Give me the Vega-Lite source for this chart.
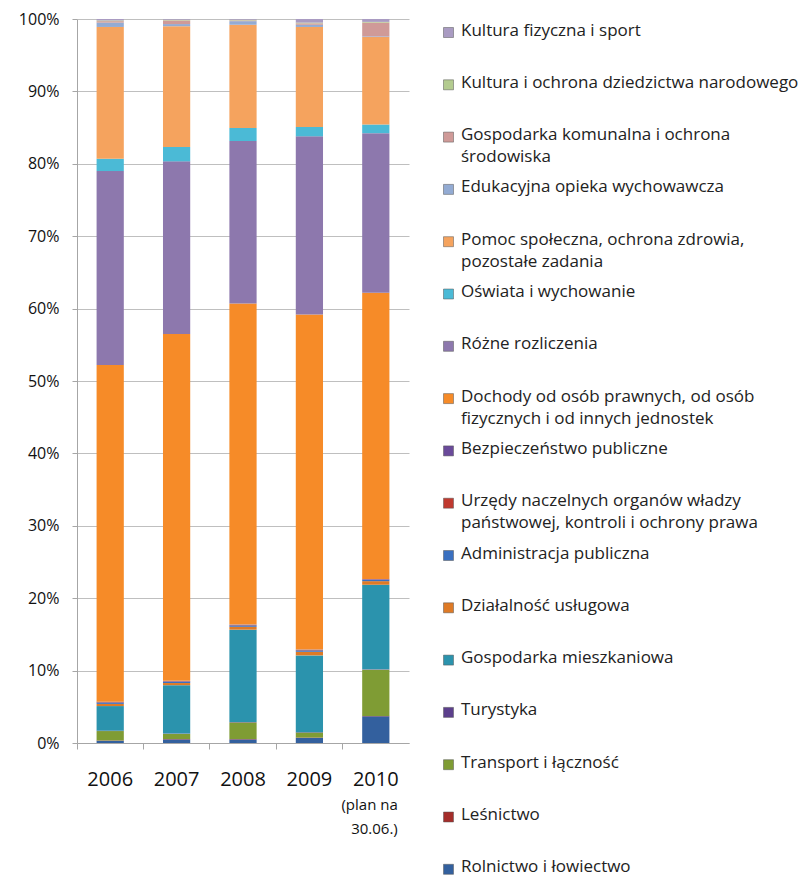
{
  "$schema": "https://vega.github.io/schema/vega-lite/v6.json",
  "width": 332,
  "height": 724,
  "padding": {"left": 18, "top": 11, "right": 0, "bottom": 0},
  "background": "white",
  "config": {
    "font": "Open Sans",
    "view": {"stroke": null}
  },
  "datasets": {
    "cats": [
      {"cat": "Rolnictwo i łowiectwo", "k": 1},
      {"cat": "Leśnictwo", "k": 2},
      {"cat": "Transport i łączność", "k": 3},
      {"cat": "Turystyka", "k": 4},
      {"cat": "Gospodarka mieszkaniowa", "k": 5},
      {"cat": "Działalność usługowa", "k": 6},
      {"cat": "Administracja publiczna", "k": 7},
      {"cat": "Urzędy naczelnych organów władzy państwowej, kontroli i ochrony prawa", "k": 8},
      {"cat": "Bezpieczeństwo publiczne", "k": 9},
      {"cat": "Dochody od osób prawnych, od osób fizycznych i od innych jednostek", "k": 10},
      {"cat": "Różne rozliczenia", "k": 11},
      {"cat": "Oświata i wychowanie", "k": 12},
      {"cat": "Pomoc społeczna, ochrona zdrowia, pozostałe zadania", "k": 13},
      {"cat": "Edukacyjna opieka wychowawcza", "k": 14},
      {"cat": "Gospodarka komunalna i ochrona środowiska", "k": 15},
      {"cat": "Kultura i ochrona dziedzictwa narodowego", "k": 16},
      {"cat": "Kultura fizyczna i sport", "k": 17}
    ],
    "bars": [
      {"year": "2006", "cat": "Rolnictwo i łowiectwo", "v": 0.3},
      {"year": "2006", "cat": "Leśnictwo", "v": 0.05},
      {"year": "2006", "cat": "Transport i łączność", "v": 1.3},
      {"year": "2006", "cat": "Turystyka", "v": 0.05},
      {"year": "2006", "cat": "Gospodarka mieszkaniowa", "v": 3.4},
      {"year": "2006", "cat": "Działalność usługowa", "v": 0.3},
      {"year": "2006", "cat": "Administracja publiczna", "v": 0.2},
      {"year": "2006", "cat": "Urzędy naczelnych organów władzy państwowej, kontroli i ochrony prawa", "v": 0.05},
      {"year": "2006", "cat": "Bezpieczeństwo publiczne", "v": 0.05},
      {"year": "2006", "cat": "Dochody od osób prawnych, od osób fizycznych i od innych jednostek", "v": 46.5},
      {"year": "2006", "cat": "Różne rozliczenia", "v": 26.8},
      {"year": "2006", "cat": "Oświata i wychowanie", "v": 1.7},
      {"year": "2006", "cat": "Pomoc społeczna, ochrona zdrowia, pozostałe zadania", "v": 18.2},
      {"year": "2006", "cat": "Edukacyjna opieka wychowawcza", "v": 0.6},
      {"year": "2006", "cat": "Gospodarka komunalna i ochrona środowiska", "v": 0.2},
      {"year": "2006", "cat": "Kultura i ochrona dziedzictwa narodowego", "v": 0.1},
      {"year": "2006", "cat": "Kultura fizyczna i sport", "v": 0.2},

      {"year": "2007", "cat": "Rolnictwo i łowiectwo", "v": 0.5},
      {"year": "2007", "cat": "Leśnictwo", "v": 0.05},
      {"year": "2007", "cat": "Transport i łączność", "v": 0.7},
      {"year": "2007", "cat": "Turystyka", "v": 0.05},
      {"year": "2007", "cat": "Gospodarka mieszkaniowa", "v": 6.7},
      {"year": "2007", "cat": "Działalność usługowa", "v": 0.3},
      {"year": "2007", "cat": "Administracja publiczna", "v": 0.2},
      {"year": "2007", "cat": "Urzędy naczelnych organów władzy państwowej, kontroli i ochrony prawa", "v": 0.05},
      {"year": "2007", "cat": "Bezpieczeństwo publiczne", "v": 0.05},
      {"year": "2007", "cat": "Dochody od osób prawnych, od osób fizycznych i od innych jednostek", "v": 48.0},
      {"year": "2007", "cat": "Różne rozliczenia", "v": 23.9},
      {"year": "2007", "cat": "Oświata i wychowanie", "v": 2.0},
      {"year": "2007", "cat": "Pomoc społeczna, ochrona zdrowia, pozostałe zadania", "v": 16.7},
      {"year": "2007", "cat": "Edukacyjna opieka wychowawcza", "v": 0.3},
      {"year": "2007", "cat": "Gospodarka komunalna i ochrona środowiska", "v": 0.5},
      {"year": "2007", "cat": "Kultura i ochrona dziedzictwa narodowego", "v": 0.1},
      {"year": "2007", "cat": "Kultura fizyczna i sport", "v": 0.1},

      {"year": "2008", "cat": "Rolnictwo i łowiectwo", "v": 0.5},
      {"year": "2008", "cat": "Leśnictwo", "v": 0.05},
      {"year": "2008", "cat": "Transport i łączność", "v": 2.3},
      {"year": "2008", "cat": "Turystyka", "v": 0.05},
      {"year": "2008", "cat": "Gospodarka mieszkaniowa", "v": 12.8},
      {"year": "2008", "cat": "Działalność usługowa", "v": 0.4},
      {"year": "2008", "cat": "Administracja publiczna", "v": 0.2},
      {"year": "2008", "cat": "Urzędy naczelnych organów władzy państwowej, kontroli i ochrony prawa", "v": 0.05},
      {"year": "2008", "cat": "Bezpieczeństwo publiczne", "v": 0.05},
      {"year": "2008", "cat": "Dochody od osób prawnych, od osób fizycznych i od innych jednostek", "v": 44.5},
      {"year": "2008", "cat": "Różne rozliczenia", "v": 22.5},
      {"year": "2008", "cat": "Oświata i wychowanie", "v": 1.8},
      {"year": "2008", "cat": "Pomoc społeczna, ochrona zdrowia, pozostałe zadania", "v": 14.3},
      {"year": "2008", "cat": "Edukacyjna opieka wychowawcza", "v": 0.5},
      {"year": "2008", "cat": "Gospodarka komunalna i ochrona środowiska", "v": 0.1},
      {"year": "2008", "cat": "Kultura i ochrona dziedzictwa narodowego", "v": 0.1},
      {"year": "2008", "cat": "Kultura fizyczna i sport", "v": 0.1},

      {"year": "2009", "cat": "Rolnictwo i łowiectwo", "v": 0.7},
      {"year": "2009", "cat": "Leśnictwo", "v": 0.05},
      {"year": "2009", "cat": "Transport i łączność", "v": 0.7},
      {"year": "2009", "cat": "Turystyka", "v": 0.05},
      {"year": "2009", "cat": "Gospodarka mieszkaniowa", "v": 10.6},
      {"year": "2009", "cat": "Działalność usługowa", "v": 0.5},
      {"year": "2009", "cat": "Administracja publiczna", "v": 0.2},
      {"year": "2009", "cat": "Urzędy naczelnych organów władzy państwowej, kontroli i ochrony prawa", "v": 0.05},
      {"year": "2009", "cat": "Bezpieczeństwo publiczne", "v": 0.05},
      {"year": "2009", "cat": "Dochody od osób prawnych, od osób fizycznych i od innych jednostek", "v": 46.3},
      {"year": "2009", "cat": "Różne rozliczenia", "v": 24.6},
      {"year": "2009", "cat": "Oświata i wychowanie", "v": 1.3},
      {"year": "2009", "cat": "Pomoc społeczna, ochrona zdrowia, pozostałe zadania", "v": 13.8},
      {"year": "2009", "cat": "Edukacyjna opieka wychowawcza", "v": 0.3},
      {"year": "2009", "cat": "Gospodarka komunalna i ochrona środowiska", "v": 0.2},
      {"year": "2009", "cat": "Kultura i ochrona dziedzictwa narodowego", "v": 0.1},
      {"year": "2009", "cat": "Kultura fizyczna i sport", "v": 0.5},

      {"year": "2010", "cat": "Rolnictwo i łowiectwo", "v": 3.7},
      {"year": "2010", "cat": "Leśnictwo", "v": 0.05},
      {"year": "2010", "cat": "Transport i łączność", "v": 6.4},
      {"year": "2010", "cat": "Turystyka", "v": 0.05},
      {"year": "2010", "cat": "Gospodarka mieszkaniowa", "v": 11.7},
      {"year": "2010", "cat": "Działalność usługowa", "v": 0.5},
      {"year": "2010", "cat": "Administracja publiczna", "v": 0.2},
      {"year": "2010", "cat": "Urzędy naczelnych organów władzy państwowej, kontroli i ochrony prawa", "v": 0.05},
      {"year": "2010", "cat": "Bezpieczeństwo publiczne", "v": 0.05},
      {"year": "2010", "cat": "Dochody od osób prawnych, od osób fizycznych i od innych jednostek", "v": 39.6},
      {"year": "2010", "cat": "Różne rozliczenia", "v": 22.1},
      {"year": "2010", "cat": "Oświata i wychowanie", "v": 1.2},
      {"year": "2010", "cat": "Pomoc społeczna, ochrona zdrowia, pozostałe zadania", "v": 12.1},
      {"year": "2010", "cat": "Edukacyjna opieka wychowawcza", "v": 0.1},
      {"year": "2010", "cat": "Gospodarka komunalna i ochrona środowiska", "v": 1.9},
      {"year": "2010", "cat": "Kultura i ochrona dziedzictwa narodowego", "v": 0.1},
      {"year": "2010", "cat": "Kultura fizyczna i sport", "v": 0.4}
    ],
    "notes": [
      {"year": "2010", "note": ["(plan na", "30.06.)"]}
    ]
  },
  "layer": [
    {
      "data": {"name": "bars"},
      "transform": [
        {"lookup": "cat", "from": {"data": {"name": "cats"}, "key": "cat", "fields": ["k"]}}
      ],
      "mark": {"type": "bar", "width": {"band": 0.41}},
      "encoding": {
        "x": {
          "field": "year",
          "type": "ordinal",
          "scale": {"paddingInner": 0, "paddingOuter": 0},
          "axis": {
            "title": null,
            "labelAngle": 0,
            "labelFontSize": 20,
            "labelColor": "#111111",
            "labelPadding": 20,
            "tickSize": 6,
            "bandPosition": 0,
            "tickColor": "#a6a6a6",
            "domainColor": "#a6a6a6",
            "grid": false
          }
        },
        "y": {
          "field": "v",
          "type": "quantitative",
          "stack": "normalize",
          "scale": {"domain": [0, 1]},
          "axis": {
            "title": null,
            "format": ".0%",
            "values": [0, 0.1, 0.2, 0.3, 0.4, 0.5, 0.6, 0.7, 0.8, 0.9, 1],
            "labelFontSize": 16,
            "labelColor": "#111111",
            "labelPadding": 13,
            "tickSize": 5,
            "tickColor": "#a6a6a6",
            "domainColor": "#a6a6a6",
            "gridColor": "#bfbfbf",
            "gridWidth": 1
          }
        },
        "order": {"field": "k", "type": "quantitative", "sort": "ascending"},
        "color": {
          "field": "cat",
          "type": "nominal",
          "sort": [
            "Kultura fizyczna i sport",
            "Kultura i ochrona dziedzictwa narodowego",
            "Gospodarka komunalna i ochrona środowiska",
            "Edukacyjna opieka wychowawcza",
            "Pomoc społeczna, ochrona zdrowia, pozostałe zadania",
            "Oświata i wychowanie",
            "Różne rozliczenia",
            "Dochody od osób prawnych, od osób fizycznych i od innych jednostek",
            "Bezpieczeństwo publiczne",
            "Urzędy naczelnych organów władzy państwowej, kontroli i ochrony prawa",
            "Administracja publiczna",
            "Działalność usługowa",
            "Gospodarka mieszkaniowa",
            "Turystyka",
            "Transport i łączność",
            "Leśnictwo",
            "Rolnictwo i łowiectwo"
          ],
          "scale": {
            "domain": [
              "Kultura fizyczna i sport",
              "Kultura i ochrona dziedzictwa narodowego",
              "Gospodarka komunalna i ochrona środowiska",
              "Edukacyjna opieka wychowawcza",
              "Pomoc społeczna, ochrona zdrowia, pozostałe zadania",
              "Oświata i wychowanie",
              "Różne rozliczenia",
              "Dochody od osób prawnych, od osób fizycznych i od innych jednostek",
              "Bezpieczeństwo publiczne",
              "Urzędy naczelnych organów władzy państwowej, kontroli i ochrony prawa",
              "Administracja publiczna",
              "Działalność usługowa",
              "Gospodarka mieszkaniowa",
              "Turystyka",
              "Transport i łączność",
              "Leśnictwo",
              "Rolnictwo i łowiectwo"
            ],
            "range": [
              "#a99bc2", "#b3cb8f", "#cf9a98", "#93abd3", "#f5a35e", "#4bbad6",
              "#8d78ad", "#f68b28", "#6a4a9a", "#c0392f", "#3a70c0", "#de7a26",
              "#2b93ad", "#5c3f8c", "#7f9c34", "#a42d2a", "#33609e"
            ]
          },
          "legend": {
            "title": null,
            "orient": "right",
            "offset": 26,
            "padding": 5,
            "symbolType": "square",
            "symbolSize": 100,
            "symbolStrokeWidth": 0.5,
            "symbolStrokeColor": "#555555",
            "labelFontSize": 17,
            "labelColor": "#222222",
            "labelLimit": 400,
            "labelOffset": 4,
            "labelBaseline": "top",
            "rowPadding": 12.3,
            "gridAlign": "all",
            "encode": {"labels": {"update": {"dy": {"value": -10}, "lineHeight": {"value": 22}}}},
            "labelExpr": "datum.label == 'Gospodarka komunalna i ochrona środowiska' ? ['Gospodarka komunalna i ochrona', 'środowiska'] : datum.label == 'Pomoc społeczna, ochrona zdrowia, pozostałe zadania' ? ['Pomoc społeczna, ochrona zdrowia,', 'pozostałe zadania'] : datum.label == 'Dochody od osób prawnych, od osób fizycznych i od innych jednostek' ? ['Dochody od osób prawnych, od osób', 'fizycznych i od innych jednostek'] : datum.label == 'Urzędy naczelnych organów władzy państwowej, kontroli i ochrony prawa' ? ['Urzędy naczelnych organów władzy', 'państwowej, kontroli i ochrony prawa'] : datum.label"
          }
        }
      }
    },
    {
      "data": {"name": "notes"},
      "mark": {"type": "text", "align": "right", "baseline": "top", "dx": 22, "fontSize": 15, "lineHeight": 24, "color": "#111111"},
      "encoding": {
        "x": {"field": "year", "type": "ordinal"},
        "y": {"datum": -0.076, "type": "quantitative"},
        "text": {"field": "note"}
      }
    }
  ]
}
